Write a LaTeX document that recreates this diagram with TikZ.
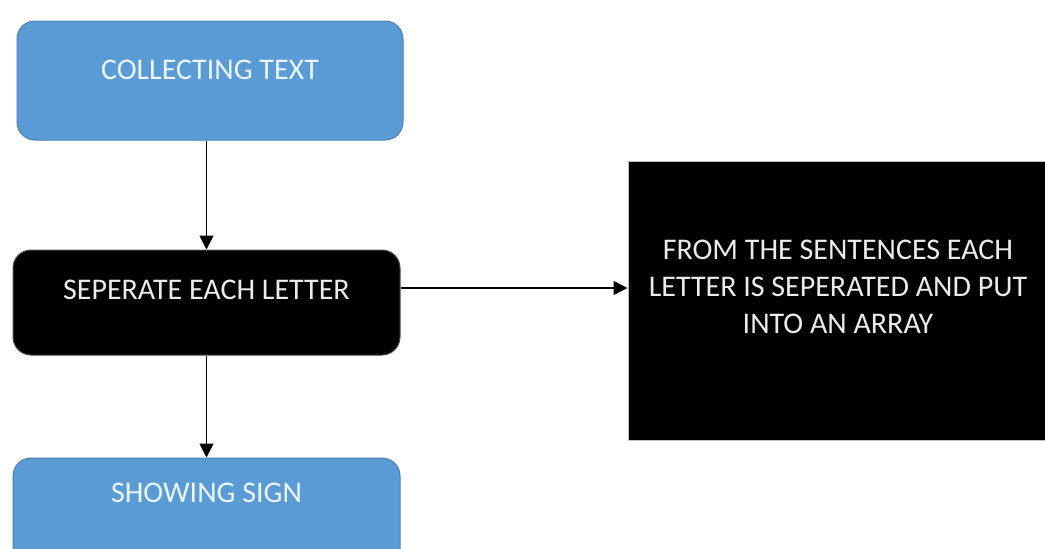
\documentclass[tikz,border=0pt]{standalone}
\usepackage{fontspec}
\setmainfont{Carlito}
\usetikzlibrary{arrows.meta}
\definecolor{boxblue}{HTML}{5B9BD5}
\definecolor{blueedge}{HTML}{4A7FB0}
\definecolor{lighttext}{HTML}{EAF6FA}
\tikzset{
  bluebox/.style={draw=blueedge, line width=1pt, fill=boxblue, rounded corners=18pt,
    text=lighttext, font=\fontsize{30}{36}\selectfont, inner sep=0pt},
  blackbox/.style={draw=black!70, line width=1pt, fill=black, rounded corners=18pt,
    text=white!92!black, font=\fontsize{30}{36}\selectfont, inner sep=0pt},
  notebox/.style={draw=black!25, line width=1pt, fill=black,
    text=white!92!black, font=\fontsize{30}{37.5}\selectfont, inner sep=0pt, align=center},
  arr/.style={line width=1.5pt, -{Triangle[width=14pt,length=14pt]}}
}
\begin{document}
\begin{tikzpicture}[x=1pt,y=-1pt]
\useasboundingbox (0,0) rectangle (1045,549);
\fill[white] (0,0) rectangle (1045,549);
\begin{scope}
\clip (0,0) rectangle (1045,549);
\node[bluebox, minimum width=386pt, minimum height=119pt] (collect) at (210,80.5)
  {\raisebox{0.8pt}[0pt][0pt]{COLLECTING TEXT}};
\node[blackbox, minimum width=387pt, minimum height=105pt] (sep) at (206.5,302.5)
  {\raisebox{2.8pt}[0pt][0pt]{SEPERATE EACH LETTER}};
\node[bluebox, minimum width=387pt, minimum height=110pt] (show) at (206.5,513)
  {\raisebox{10.3pt}[0pt][0pt]{SHOWING SIGN}};
\node[notebox, minimum width=420pt, minimum height=279pt] (note) at (838,300.5)
  {\raisebox{5pt}[0pt][0pt]{\begin{tabular}{@{}c@{}}FROM THE SENTENCES EACH\\[-0.5pt]LETTER IS SEPERATED AND PUT\\[-0.5pt]INTO AN ARRAY\end{tabular}}};
\end{scope}
\draw[arr] (collect.south -| sep.center) -- (sep.north);
\draw[arr] (sep.south) -- (show.north);
\path ([yshift=14.5pt]sep.east) coordinate (a);
\draw[arr] (a) -- (a -| note.west);
\end{tikzpicture}
\end{document}
